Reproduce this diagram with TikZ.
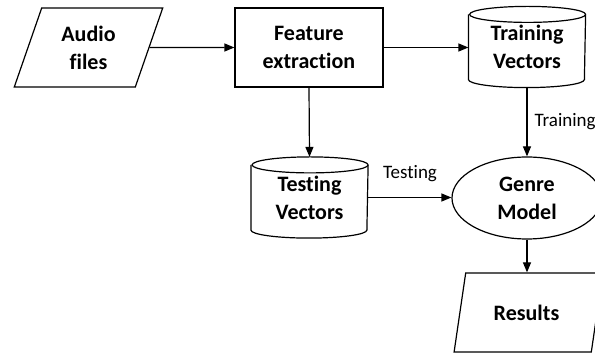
\documentclass[tikz,border=0pt]{standalone}
\usepackage{fontspec}
\setmainfont{Carlito}[Ligatures={NoCommon}]
\usetikzlibrary{shapes.geometric,arrows.meta}
\tikzset{
  every picture/.style={line width=1.2pt},
  lbl/.style={font=\fontsize{22}{28}\selectfont\bfseries, align=center, inner sep=0pt},
  small/.style={font=\fontsize{19}{23}\selectfont, inner sep=0pt},
  para/.style={trapezium, trapezium left angle=70, trapezium right angle=110, trapezium stretches=true, draw, minimum width=149pt, minimum height=79pt, inner sep=0pt, lbl},
  procbox/.style={rectangle, draw, minimum width=148pt, minimum height=79pt, inner sep=0pt, lbl},
  cylbox/.style={rectangle, minimum width=116pt, minimum height=80pt, inner sep=0pt, lbl},
  ellbox/.style={ellipse, draw, minimum width=150pt, minimum height=82pt, inner sep=0pt, lbl},
  arr/.style={-{Triangle[length=10pt,width=8pt]}},
}
\newcommand{\cylpath}[1]{%
  \draw ([yshift=-8pt]#1.north east) arc[start angle=0, end angle=180, x radius=58pt, y radius=8pt]
        arc[start angle=180, end angle=360, x radius=58pt, y radius=8pt];
  \draw ([yshift=-8pt]#1.north west) -- ([yshift=8pt]#1.south west)
        arc[start angle=180, end angle=360, x radius=58pt, y radius=8pt]
        -- ([yshift=-8pt]#1.north east);
}
\begin{document}
\begin{tikzpicture}[x=1pt,y=1pt]
\useasboundingbox (0,0) rectangle (595,353);
\clip (0,0) rectangle (595,353);
\node[para] (audio) at (88.5,305.5) {Audio\\files};
\node[procbox] (feat) at (309,305.5) {Feature\\extraction};
\node[cylbox] (tv) at (527,306) {Training\\Vectors};
\cylpath{tv}
\node[cylbox] (sv) at (309.5,155.5) {Testing\\Vectors};
\cylpath{sv}
\node[ellbox] (genre) at (527,155) {Genre\\Model};
\node[para] (res) at (528.5,40.5) {\hspace*{-4pt}Results};
\draw[arr] (audio.east) -- (feat.west);
\draw[arr] (feat.east) -- (feat.east -| tv.west);
\draw[arr] (feat.south) -- (sv.north);
\draw[arr] (tv.south) -- (genre.north);
\draw[arr] (sv.east) -- (sv.east -| genre.west);
\draw[arr] (genre.south) -- (genre.south |- res.north);
\node[small, anchor=west] (trl) at (534,231) {Training};
\node[small] (tel) at (410,179) {Testing};
\end{tikzpicture}
\end{document}
